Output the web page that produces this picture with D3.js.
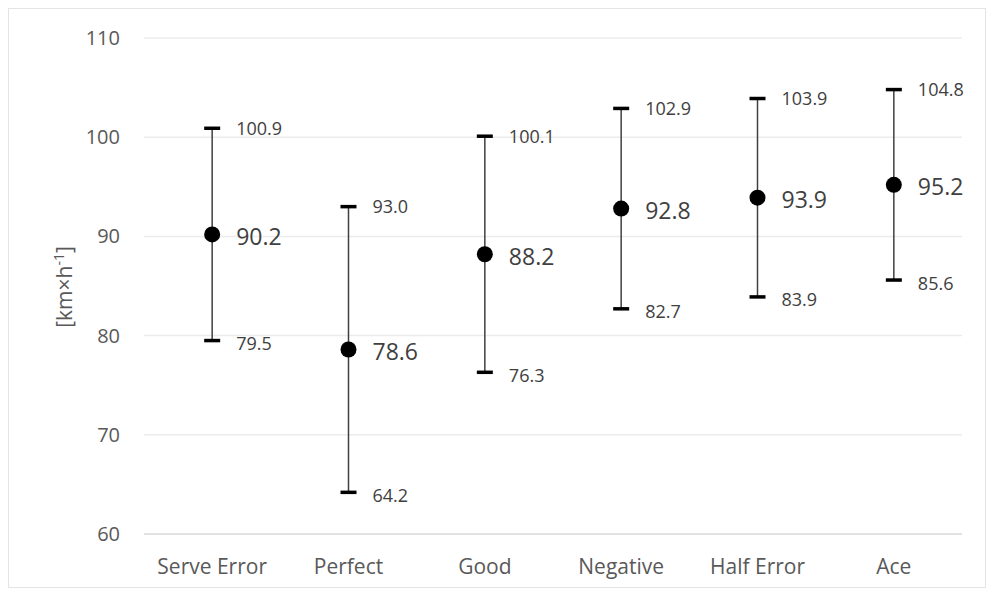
<!DOCTYPE html>
<html lang="en">
<head>
<meta charset="UTF-8">
<title>Serve speed</title>
<script src="https://cdn.jsdelivr.net/npm/d3@7"></script>
<style>
  body { margin: 0; background: #fff; }
  svg { display: block; font-family: "Open Sans", sans-serif; }
</style>
</head>
<body>
<script>
'use strict';

// data
var categories = ['Serve Error', 'Perfect', 'Good', 'Negative', 'Half Error', 'Ace'];
var means = [90.2, 78.6, 88.2, 92.8, 93.9, 95.2];
var upper = [100.9, 93.0, 100.1, 102.9, 103.9, 104.8];
var lower = [79.5, 64.2, 76.3, 82.7, 83.9, 85.6];
var yTicks = [60, 70, 80, 90, 100, 110];

var w = 994, h = 596;
var padL = 144, padR = 962, padT = 38, padB = 534;

var svg = d3.select('body').append('svg')
    .attr('width', w)
    .attr('height', h);

// chart border
svg.append('rect')
    .attr('x', 8.5).attr('y', 8.5)
    .attr('width', w - 17).attr('height', h - 17)
    .attr('fill', '#fff')
    .attr('stroke', '#e4e4e4');

var x = d3.scaleBand()
    .domain(categories)
    .range([padL, padR]);

var y = d3.scaleLinear()
    .domain([60, 110])
    .range([padB, padT]);

// grid
svg.append('g').selectAll('line')
    .data(yTicks)
    .enter().append('line')
    .attr('x1', padL).attr('x2', padR)
    .attr('y1', d => y(d)).attr('y2', d => y(d))
    .attr('stroke', d => d === 60 ? '#d9d9d9' : '#ececec')
    .attr('stroke-width', 1.5);

// y axis labels
var axisL = d3.axisLeft(y).tickValues(yTicks).tickSize(0).tickPadding(24);
var gy = svg.append('g')
    .attr('transform', 'translate(' + padL + ',0)')
    .call(axisL);
gy.select('.domain').remove();
gy.selectAll('text')
    .attr('fill', '#595959')
    .style('font-size', '20px')
    .style('font-family', '"Open Sans", sans-serif');

// x axis labels
var axisB = d3.axisBottom(x).tickSize(0).tickPadding(25);
var gx = svg.append('g')
    .attr('transform', 'translate(0,' + padB + ')')
    .call(axisB);
gx.select('.domain').remove();
gx.selectAll('text')
    .attr('fill', '#595959')
    .style('font-size', '21px')
    .style('font-family', '"Open Sans", sans-serif');

// y axis title
var title = svg.append('text')
    .attr('transform', 'translate(72,' + 287 + ') rotate(-90)')
    .attr('text-anchor', 'middle')
    .attr('fill', '#595959')
    .style('font-size', '21px');
title.append('tspan').text('[km×h');
title.append('tspan').attr('dy', -8).style('font-size', '14px').text('-1');
title.append('tspan').attr('dy', 8).text(']');

var items = svg.append('g').selectAll('g')
    .data(categories)
    .enter().append('g')
    .attr('transform', d => 'translate(' + (x(d) + x.bandwidth() / 2) + ',0)');

items.append('line')
    .attr('y1', (d, i) => y(upper[i]))
    .attr('y2', (d, i) => y(lower[i]))
    .attr('stroke', '#404040')
    .attr('stroke-width', 1.5);

items.append('line')
    .attr('x1', -8).attr('x2', 8)
    .attr('y1', (d, i) => y(upper[i])).attr('y2', (d, i) => y(upper[i]))
    .attr('stroke', '#000').attr('stroke-width', 3.5);

items.append('line')
    .attr('x1', -8).attr('x2', 8)
    .attr('y1', (d, i) => y(lower[i])).attr('y2', (d, i) => y(lower[i]))
    .attr('stroke', '#000').attr('stroke-width', 3.5);

items.append('circle')
    .attr('cy', (d, i) => y(means[i]))
    .attr('r', 8)
    .attr('fill', '#000');

items.append('text')
    .attr('x', 24)
    .attr('y', (d, i) => y(means[i]) + 2)
    .attr('dy', '0.36em')
    .attr('fill', '#404040')
    .style('font-size', '23px')
    .text((d, i) => means[i].toFixed(1));

items.append('text')
    .attr('x', 24)
    .attr('y', (d, i) => y(upper[i]))
    .attr('dy', '0.36em')
    .attr('fill', '#404040')
    .style('font-size', '18px')
    .text((d, i) => upper[i].toFixed(1));

items.append('text')
    .attr('x', 24)
    .attr('y', (d, i) => y(lower[i]) + 3)
    .attr('dy', '0.36em')
    .attr('fill', '#404040')
    .style('font-size', '18px')
    .text((d, i) => lower[i].toFixed(1));
</script>
</body>
</html>
